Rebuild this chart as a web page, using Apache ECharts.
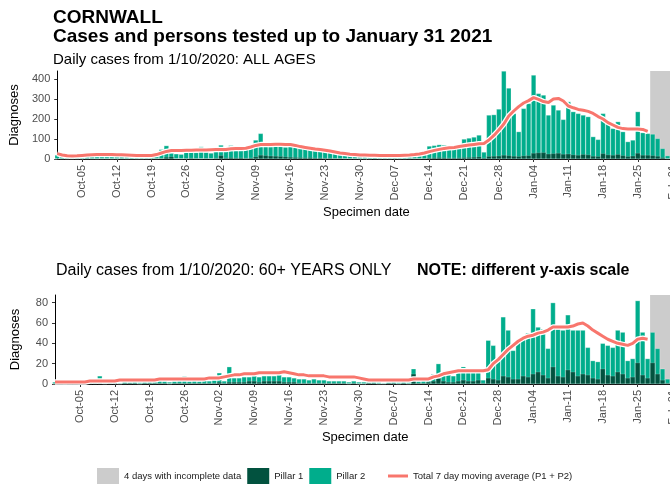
<!DOCTYPE html>
<html><head><meta charset="utf-8">
<script src="https://cdn.jsdelivr.net/npm/echarts@6/dist/echarts.min.js"></script>
<style>html,body{margin:0;padding:0;overflow:hidden;background:#fff;width:670px;height:485px}#c{width:678px;height:485px}</style>
</head><body><div id="c"></div>
<script>
// x values are days since 30 Sep 2020 (index 0 = Sep-30, 1 = Oct-01 ... 123 = Jan-31)
const tickDays = [5,12,19,26,33,40,47,54,61,68,75,82,89,96,103,110,117,124];
const tickLabels = ['Oct-05','Oct-12','Oct-19','Oct-26','Nov-02','Nov-09','Nov-16','Nov-23','Nov-30','Dec-07','Dec-14','Dec-21','Dec-28','Jan-04','Jan-11','Jan-18','Jan-25','Feb-01'];
const incompleteDays = [119.5, 123.5];

// ALL AGES
const allPillar1 = [
  2,2,1,1,2,2,3,2,1,2, 2,1,2,3,2,2,1,1,2,3, 3,4,10,12,3,3,4,5,4,3, 4,3,
  5,18,6,8,6,7,5,6,12,20, 18,16,15,14,12,10,9,8,7,8, 6,6,5,5,4,4,3,3,3,2,
  2,2,3,2,2,2,3,2,2,3, 3,3,4,6,7,8,7,6,6,7, 8,9,10,12,6,14,15,16,20,18, 15,
  14,17,18,30,32,33,26,28,30,25, 26,22,20,24,22,15,14,28,22,20, 24,18,14,16,30,20,20,18,15,8, 3
];
const allPillar2 = [
  18,16,14,11,14,18,19,16,16,17, 14,14,19,19,18,17,17,13,11,15, 21,44,57,18,23,21,30,31,29,59, 31,27,
  33,52,39,60,42,53,45,46,83,108, 46,46,50,49,48,56,49,47,45,42, 42,40,39,33,30,24,22,19,17,16,
  15,14,15,13,15,14,16,13,15,17, 19,21,26,59,61,64,63,49,46,53, 92,96,100,108,29,206,207,234,420,337, 213,
  123,236,260,390,296,287,194,242,215,173, 261,215,208,196,190,97,84,200,156,133, 163,119,73,79,207,112,108,107,88,45, 14
];
const allAverage = [
  27,20,16,15,16,18,20,21,22,22, 22,22,21,21,20,19,18,17,17,18, 22,30,38,42,43,43,44,44,45,45, 45,46,
  47,47,48,51,52,53,54,60,68,72, 73,73,74,74,73,72,68,62,58,54, 50,47,44,40,35,30,27,24,22,20,
  20,19,19,18,18,18,18,18,19,20, 22,25,30,37,43,48,53,56,58,62, 66,70,73,76,78,95,118,145,175,215, 240,
  262,280,292,307,298,287,283,300,303,290, 265,256,248,244,238,228,212,200,182,170, 158,152,150,150,150,148,138
];

// 60+ YEARS ONLY
const oldPillar1 = [
  0,1,0,1,1,0,0,1,1,1, 0,1,1,0,1,1,1,0,1,1, 1,1,1,0,1,1,1,1,1,1, 1,1,
  1,2,1,2,2,2,2,3,3,2, 3,3,3,3,2,2,2,1,1,1, 1,1,1,1,1,1,1,0,1,0,
  0,1,1,0,0,1,1,0,1,0, 10,1,1,2,3,6,3,2,2,3, 4,3,3,4,1,6,5,4,8,7, 5,
  5,8,7,10,12,9,6,17,8,7, 14,12,8,10,9,6,5,15,9,8, 12,10,6,7,21,9,6,21,10,4, 1
];
const oldPillar2 = [
  2,1,1,1,2,2,1,1,2,7, 2,2,1,1,2,1,2,2,2,3, 2,3,2,2,2,3,7,2,3,2, 3,2,
  3,9,2,15,4,4,5,4,5,5, 5,5,5,6,5,5,4,4,4,3, 4,3,3,2,2,2,2,2,2,2,
  2,1,2,2,1,1,2,2,2,2, 5,2,3,3,7,14,7,7,6,8, 13,13,13,12,3,37,33,19,58,46, 28,
  36,38,43,64,44,45,29,63,46,46, 54,41,45,43,27,17,17,25,29,28, 41,41,17,18,61,42,19,30,25,11, 4
];
const oldAverage = [
  2,2,2,2,2,2,2,3,3,3, 3,3,3,4,4,4,4,4,4,4, 4,5,5,5,5,5,5,5,5,5, 5,6,
  6,6,7,8,9,9,10,10,10,11, 11,11,11,11,12,11,10,9,9,8, 8,8,8,7,7,7,7,7,7,6,
  5,4,4,4,4,4,4,4,4,4, 5,5,5,5,7,8,10,11,12,13, 13,13,13,13,13,14,20,24,29,34, 38,
  42,45,47,48,50,51,53,56,56,56, 56,57,59,60,57,53,50,47,44,42, 40,39,38,40,44,45,44
];

const FONT = 'Liberation Sans, Arial, sans-serif';
const C_P1 = '#02523F', C_P2 = '#00AD8C', C_GRAY = '#CCCCCC', C_LINE = '#F8766D';
const N_GRAY = '4 days with incomplete data', N_P1 = 'Pillar 1', N_P2 = 'Pillar 2', N_MA = 'Total 7 day moving average (P1 + P2)';

function xAxisCfg(gi){
  return {
    type:'value', gridIndex:gi, min:-0.4, max:125,
    name:'Specimen date', nameLocation:'middle', nameGap:47,
    nameTextStyle:{fontFamily:FONT, fontSize:13, color:'#000'},
    axisLine:{show:true, lineStyle:{color:'#000', width:1}},
    axisTick:{show:true, length:3, customValues:tickDays, lineStyle:{color:'#333'}},
    axisLabel:{customValues:tickDays, rotate:90, margin:6, fontFamily:FONT, fontSize:11, color:'#4D4D4D',
      formatter:v => tickLabels[tickDays.indexOf(Math.round(v))] || ''},
    splitLine:{show:false}
  };
}
function yAxisCfg(gi, max, interval){
  return {
    type:'value', gridIndex:gi, min:0, max:max, interval:interval,
    name:'Diagnoses', nameLocation:'middle', nameGap:31,
    nameTextStyle:{fontFamily:FONT, fontSize:13, color:'#000'},
    axisLine:{show:true, lineStyle:{color:'#000', width:1}},
    axisTick:{show:true, length:3, lineStyle:{color:'#333'}},
    axisLabel:{margin:5, fontFamily:FONT, fontSize:11, color:'#4D4D4D', showMaxLabel:false},
    splitLine:{show:false}
  };
}
function panelSeries(gi, p1, p2, ma){
  const totals = p1.map((v,i) => [i, v + p2[i]]);
  const p1d = p1.map((v,i) => [i, v]);
  const mad = ma.map((v,i) => [i, v]);
  return [
    {type:'custom', name:N_GRAY, xAxisIndex:gi, yAxisIndex:gi, z:1,
     itemStyle:{color:C_GRAY},
     data:[[incompleteDays[0], incompleteDays[1], 0]], encode:{x:[0,1], y:2},
     renderItem:(params, api) => {
       const a = api.coord([api.value(0), 0]);
       const b = api.coord([api.value(1), 0]);
       const cs = params.coordSys;
       return {type:'rect', shape:{x:a[0], y:cs.y, width:b[0]-a[0], height:cs.height}, style:{fill:C_GRAY}};
     }},
    {type:'bar', name:N_P2, xAxisIndex:gi, yAxisIndex:gi, z:2, barWidth:5, barGap:'-100%',
     itemStyle:{color:C_P2, borderColor:'rgba(255,255,255,0.55)', borderWidth:0.5},
     data:totals},
    {type:'bar', name:N_P1, xAxisIndex:gi, yAxisIndex:gi, z:2, barWidth:5, barGap:'-100%',
     itemStyle:{color:C_P1, borderColor:'rgba(255,255,255,0.35)', borderWidth:0.5},
     data:p1d},
    {type:'line', name:'halo', xAxisIndex:gi, yAxisIndex:gi, z:3, symbol:'none', silent:true,
     lineStyle:{color:'#ffffff', width:5.5}, data:mad},
    {type:'line', name:N_MA, xAxisIndex:gi, yAxisIndex:gi, z:4, symbol:'none',
     itemStyle:{color:C_LINE}, lineStyle:{color:C_LINE, width:3}, data:mad}
  ];
}

const legendText = {fontFamily:FONT, fontSize:9.5, color:'#1A1A1A'};
const chart = echarts.init(document.getElementById('c'), null, {renderer:'canvas'});
chart.setOption({
  animation:false,
  backgroundColor:'#fff',
  textStyle:{fontFamily:FONT},
  title:[
    {text:'CORNWALL', left:53, top:8, padding:0, textStyle:{fontFamily:FONT, fontSize:19, fontWeight:'bold', color:'#000'}},
    {text:'Cases and persons tested up to January 31 2021', left:53, top:27, padding:0, textStyle:{fontFamily:FONT, fontSize:19, fontWeight:'bold', color:'#000'}},
    {text:'Daily cases from 1/10/2020: ALL AGES', left:53, top:52, padding:0, textStyle:{fontFamily:FONT, fontSize:15, fontWeight:'normal', color:'#000'}},
    {text:'Daily cases from 1/10/2020: 60+ YEARS ONLY', left:56, top:263, padding:0, textStyle:{fontFamily:FONT, fontSize:16, fontWeight:'normal', color:'#000'}},
    {text:'NOTE: different y-axis scale', left:417, top:263, padding:0, textStyle:{fontFamily:FONT, fontSize:16, fontWeight:'bold', color:'#000'}}
  ],
  legend:[
    {
      left:97, top:468, padding:0, itemWidth:22, itemHeight:16, itemGap:6,
      textStyle:legendText,
      data:[
        {name:N_GRAY, icon:'rect', itemStyle:{borderWidth:0}},
        {name:N_P1, icon:'rect', itemStyle:{borderWidth:0}},
        {name:N_P2, icon:'rect', itemStyle:{borderWidth:0}}
      ]
    },
    {
      left:388, top:471, padding:0, itemWidth:20, itemHeight:3, itemGap:6,
      textStyle:legendText,
      data:[
        {name:N_MA, icon:'rect', itemStyle:{color:C_LINE, borderWidth:0}}
      ]
    }
  ],
  grid:[
    {left:53, right:0, top:71, height:88},
    {left:53, right:0, top:295, height:89}
  ],
  xAxis:[xAxisCfg(0), xAxisCfg(1)],
  yAxis:[yAxisCfg(0, 440, 100), yAxisCfg(1, 87.5, 20)],
  series:[].concat(
    panelSeries(0, allPillar1, allPillar2, allAverage),
    panelSeries(1, oldPillar1, oldPillar2, oldAverage)
  )
});
</script></body></html>
